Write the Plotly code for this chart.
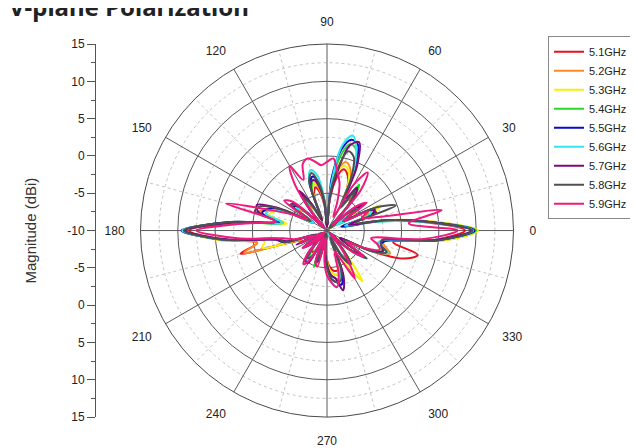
import numpy as np
import plotly.graph_objects as go

# angles in degrees (5-degree steps)
theta = list(range(0, 360, 5))

freqs = ["5.1GHz", "5.2GHz", "5.3GHz", "5.4GHz", "5.5GHz", "5.6GHz", "5.7GHz", "5.8GHz", "5.9GHz"]
colors = ["#e8101e", "#ff8a22", "#f2f20a", "#2ad82a", "#0a0ac8", "#33e6f0", "#7a0a7a", "#505050", "#f0197d"]

r_51 = [8.5, 3, -2.5, -7, -4.5, -4, -8, -5.5, -6.5, -9.5, -5.5, -4.5,
        -6.5, -3.5, -2, -1.5, -3, -6, -9.5, -7, -5, -4, -5, -8.5,
        -7, -5.5, -7.5, -9.5, -6, -5, -8, -4.5, -2, -0.5, -3.5, 2,
        8.5, 4, -0.5, 2, -6, -6.5, -9.5, -7, -7.5, -9.5, -7.5, -6.5,
        -7, -9.5, -6.5, -7, -9.5, -7.5, -6, -5, -4.5, -4.5, -5.5, -9.5,
        -6.5, -5.5, -7, -9.5, -6, -4.5, -8, -3.5, 1, 2.6, -1, 4.5]
r_52 = [10.2, 4, -2, -7, -4.5, -4, -8.5, -5.5, -6, -9.5, -5.5, -4,
        -6.5, -3, -1, -0.5, -2, -5.5, -9.5, -6.5, -4.5, -3.5, -4.5, -8.5,
        -7, -5, -7.5, -9.5, -6, -5, -8, -4.5, -2, -0.5, -3.5, 2.5,
        9.2, 4.5, -0.5, 1.5, -6, -6.5, -9.5, -7, -7.5, -9.5, -7.5, -6,
        -6.5, -9.5, -6, -6.5, -9.5, -7.5, -6, -4.5, -4, -4, -5.5, -9.5,
        -6.5, -5, -7, -9.5, -6, -4.5, -8, -4, -1, -2, -2.5, 5.5]
r_53 = [10.2, 4, -2.5, -7.5, -4, -2, -6, -5, -6.5, -9.5, -5, -3.5,
        -6.5, -3.5, -1.5, -1, -2, -5, -9, -6, -4, -3.5, -4.5, -8,
        -6.5, -5, -7, -9.5, -5.5, -5, -7, -3.7, -2.5, -2, -4.5, 3,
        9.2, 4.5, -1.5, -1, -8, -6, -9.5, -6.5, -7.5, -9.5, -7, -6,
        -6.5, -9.5, -6, -5.5, -9.5, -7, -5.5, -4.5, -4, -4, -5, -9,
        -5, -1.7, -6.5, -9.5, -6, -4, -8, -4.5, -2, -3, -2.5, 5.5]
r_54 = [10, 3.5, -3, -8, -4, -3.5, -8.5, -5, -6, -9.5, -4.5, -2.5,
        -6, -1.5, 1.5, 2, 0, -4.5, -9.5, -6.5, -4, -3, -4, -8.5,
        -6.5, -4.5, -7.5, -9.5, -5.5, -5, -8, -4.5, -2, -1.5, -4, 3,
        9.3, 4, -3, -4, -8.5, -6, -9.5, -7, -7.5, -9.5, -7, -6,
        -5.5, -8.5, -4.8, -6.5, -9.5, -7, -5.5, -4, -3.5, -3, -4.5, -9,
        -6, -4.5, -7, -9.5, -6, -4.5, -8, -4.5, -2, -3, -2, 5]
r_55 = [9.8, 3.5, -2.5, -8, -3.5, -3, -8, -4.5, -6, -9.5, -5, -3,
        -6, -2, 2.2, 2.6, 1, -3, -9.5, -6, -3.5, -2.5, -3.5, -8,
        -6, -4, -7, -9.5, -5, -4.5, -8, -4, -1.5, -1, -3.5, 3,
        9.5, 4, -3, -4, -8.5, -6, -9.5, -6.5, -7, -9.5, -7, -5.5,
        -6, -9.5, -5.5, -6, -9.5, -7, -5, -3.5, -3, -2.5, -4, -9,
        -6, -4.5, -7, -9.5, -6, -4, -8, -4, -1.5, -2.5, -2, 5]
r_56 = [9.6, 3, -3, -7.5, -4, -3.5, -8.5, -5, -5.5, -9, -5.5, -3.5,
        -6.5, -2, 1.5, 3.2, 1.5, -4, -9, -5.5, -2.5, -1.6, -3, -8,
        -6.5, -4.5, -7.5, -9, -5.5, -5, -8, -4.5, -2, -1.5, -4, 2.5,
        9.4, 4, -3.5, -4.5, -8, -6.5, -9, -7, -7.5, -9, -6.5, -5,
        -6.5, -9, -6, -6.5, -9, -6.5, -4.5, -3, -2.3, -3.5, -5, -9.5,
        -6.5, -5, -7.5, -9, -5.5, -3.5, -7.5, -3.5, -1.3, -3, -2.5, 4.5]
r_57 = [9.3, 3.5, -2, -7, -3, -3.5, -7.5, -4, -5.5, -9, -4.5, -3,
        -5, -0.5, 2.6, 1.8, -2, -5.5, -9.5, -6.5, -4, -3, -3.5, -8.5,
        -6, -3.5, -6.5, -9, -4.5, -4, -7, -3, 0, -0.5, -3, 2.5,
        9, 3.5, -3, -4.5, -8, -5.5, -9, -6, -7, -9, -6, -5,
        -5, -8.5, -6, -6.5, -9.5, -7.5, -5.5, -4, -3.5, -1.7, -3.5, -8.5,
        -6, -5, -7, -9.5, -6, -4, -8, -4, -2, -2.5, -2.5, 4.5]
r_58 = [9.5, 3.5, -2, -6, -0.2, -2.5, -7.5, -5, -6.5, -9.5, -5.5, -3.5,
        -6.5, -2.5, 0.5, 1, -1.5, -5, -9, -6, -3.5, -2, -3, -8,
        -6.5, -4.5, -7, -9.5, -5, -4, -7.5, -3.5, -0.5, 0, -3, 3,
        9.2, 4, -3.5, -4, -8.5, -6, -9.5, -6.5, -7.5, -9.5, -7, -5.5,
        -6, -9.5, -5.5, -6.5, -9.5, -7, -5, -3.5, -3, -3, -4.5, -9,
        -6, -4.5, -6.5, -9.5, -6, -3.5, -7.5, -3.5, -1.5, -2.5, -2.5, 5]
r_59 = [7.5, 1, 5.6, -3, -5, -4, -7.5, -3.5, -5, -9, -3, -0.5,
        -3, -8, -6, -3.5, -2, -0.3, -0.8, -1.2, -0.6, 0, -0.5, -2.5,
        0, -2.5, -7, -9.5, -4, -3, -7, -5, -2, 4, -3, 1,
        7.5, 2, -4, -5.5, -8, -6, -9.5, -6, -7, -9.5, -6, -4.5,
        -5.5, -9, -5.5, -5, -9, -6, -4, -3, -2.3, -4, -7, -6,
        -2.6, -5, -7.5, -9.5, -5.5, -4, -7, -4.5, -2.5, -3, -4, 3]

series = [r_51, r_52, r_53, r_54, r_55, r_56, r_57, r_58, r_59]

# radial axis labels (center = -10, edge = 15), mirrored on left scale
r_major = [-5, 0, 5, 10, 15]
r_minor = [-7.5, -2.5, 2.5, 7.5, 12.5]
ang_major = list(range(0, 360, 30))
ang_minor = list(range(15, 360, 30))
left_vals = list(range(-25, 30, 5))
left_text = [str(abs(v) - 10) for v in left_vals]

W, H = 638, 448
OFF = 8  # page body margin compensation
cx, cy, R = 327 - OFF, 230.5 - OFF, 192.5
dom_x = [(cx - R) / W, (cx + R) / W]
dom_y = [(H - cy - R) / H, (H - cy + R) / H]

fig = go.Figure()

fig.add_trace(go.Scatterpolar(r=[-10], theta=[0], mode="markers", marker=dict(opacity=0),
                              showlegend=False, hoverinfo="skip", subplot="polar"))
fig.add_trace(go.Scatter(x=[0.5], y=[0], mode="markers", marker=dict(opacity=0),
                         showlegend=False, hoverinfo="skip"))

for name, col, r in zip(freqs, colors, series):
    fig.add_trace(go.Scatterpolar(
        r=r + [r[0]], theta=theta + [360], mode="lines", name=name,
        line=dict(color=col, width=2, shape="spline", smoothing=1),
        subplot="polar2"))

font_main = "Liberation Sans, Arial, sans-serif"

fig.update_layout(
    width=W, height=H, margin=dict(l=0, r=0, t=0, b=0),
    paper_bgcolor="white", plot_bgcolor="white",
    font=dict(family=font_main, size=12, color="#222"),
    polar=dict(
        domain=dict(x=dom_x, y=dom_y), bgcolor="white",
        radialaxis=dict(range=[-10, 15], tickmode="array", tickvals=r_minor,
                        showticklabels=False, ticks="", showline=False,
                        gridcolor="#c4c4c4", griddash="dot", gridwidth=1),
        angularaxis=dict(tickmode="array", tickvals=ang_minor, showticklabels=False,
                         ticks="", showline=False, gridcolor="#c4c4c4", griddash="dot",
                         direction="counterclockwise", rotation=0),
    ),
    polar2=dict(
        domain=dict(x=dom_x, y=dom_y), bgcolor="rgba(0,0,0,0)",
        radialaxis=dict(range=[-10, 15], tickmode="array", tickvals=r_major,
                        showticklabels=False, ticks="", showline=False,
                        gridcolor="#5a5a5a", gridwidth=1),
        angularaxis=dict(tickmode="array", tickvals=ang_major, ticks="outside",
                         ticklen=13, tickcolor="rgba(0,0,0,0)",
                         showline=True, linecolor="#4a4a4a", linewidth=1,
                         gridcolor="#5a5a5a", gridwidth=1,
                         tickfont=dict(size=12, color="#222"),
                         direction="counterclockwise", rotation=0),
    ),
    xaxis=dict(visible=False, domain=[0.13, 0.2], range=[0, 1]),
    yaxis=dict(domain=dom_y, range=[-25, 25], anchor="free", position=(95 - OFF) / W,
               tickmode="array", tickvals=left_vals, ticktext=left_text,
               ticks="outside", ticklen=8, tickcolor="#555", showline=True,
               linecolor="#555", linewidth=1, showgrid=False, zeroline=False,
               tickfont=dict(size=12, color="#222"),
               minor=dict(tickvals=list(np.arange(-22.5, 25, 5)), ticks="outside",
                          ticklen=4, tickcolor="#555", showgrid=False)),
    legend=dict(x=(548 - OFF) / W, y=1 - (30 - OFF) / H, xanchor="left", yanchor="top",
                bordercolor="#888", borderwidth=1, bgcolor="white", itemwidth=30,
                font=dict(size=11, color="#222"), tracegroupgap=0),
    showlegend=True,
    annotations=[
        dict(text="Magnitude (dBi)", x=(31 - OFF) / W, y=(dom_y[0] + dom_y[1]) / 2,
             xref="paper", yref="paper", textangle=-90, showarrow=False,
             font=dict(size=15, color="#333"), xanchor="center", yanchor="middle"),
        dict(text="<b>V-plane Polarization</b>", x=-1 / W, y=1 - 10 / H, xref="paper", yref="paper",
             xanchor="left", yanchor="bottom", showarrow=False,
             font=dict(size=24, color="#222", family="Noto Sans, sans-serif")),
    ],
)

fig.write_html("out.html")
